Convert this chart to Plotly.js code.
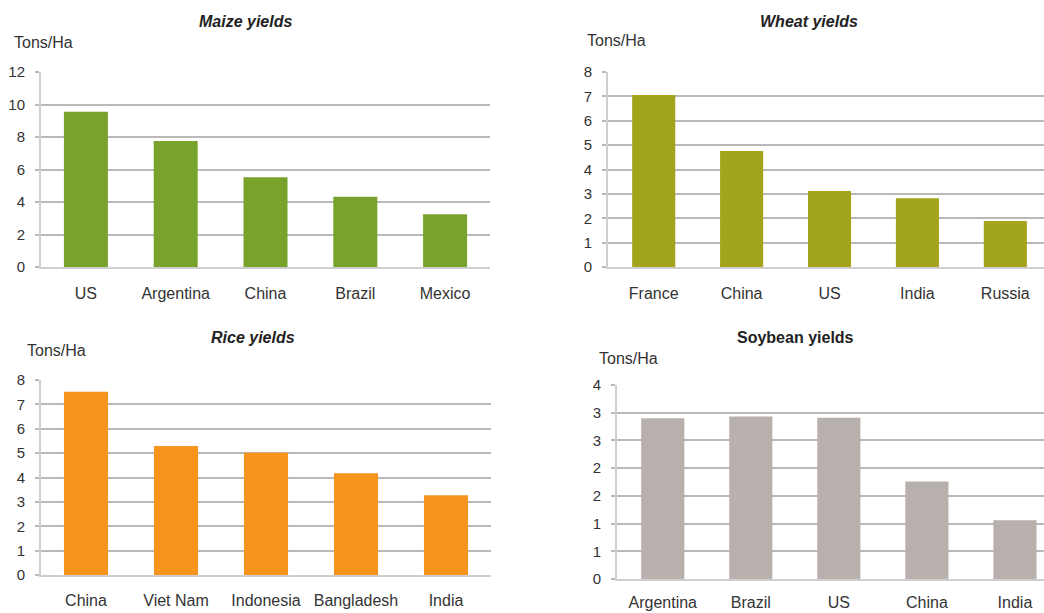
<!DOCTYPE html>
<html>
<head>
<meta charset="utf-8">
<script src="https://cdn.plot.ly/plotly-3.0.1.min.js"></script>
<style>html,body{margin:0;padding:0;background:#fff;}#chart{width:1044px;height:613px;}</style>
</head>
<body>
<div id="chart"></div>
<script>
// ---- Data ----
const maizeCountries = ['US', 'Argentina', 'China', 'Brazil', 'Mexico'];
const maizeYields = [9.56, 7.75, 5.52, 4.33, 3.24];

const wheatCountries = ['France', 'China', 'US', 'India', 'Russia'];
const wheatYields = [7.06, 4.76, 3.12, 2.82, 1.89];

const riceCountries = ['China', 'Viet Nam', 'Indonesia', 'Bangladesh', 'India'];
const riceYields = [7.52, 5.29, 5.02, 4.17, 3.27];

const soyCountries = ['Argentina', 'Brazil', 'US', 'China', 'India'];
const soyYields = [2.90, 2.93, 2.91, 1.76, 1.06];

const maizeTicks = [0, 2, 4, 6, 8, 10, 12];
const wheatTicks = [0, 1, 2, 3, 4, 5, 6, 7, 8];
const riceTicks = [0, 1, 2, 3, 4, 5, 6, 7, 8];
const soyTickVals = [0, 0.5, 1, 1.5, 2, 2.5, 3, 3.5];
const soyTickText = ['0', '1', '1', '2', '2', '3', '3', '4'];

const titles = ['Maize yields', 'Wheat yields', 'Rice yields', 'Soybean yields'];
const unitLabel = 'Tons/Ha';

// ---- Layout helpers ----
const W = 1044, H = 613;
const px = v => v / W;
const py = v => 1 - v / H;
const FONT = 'Liberation Sans, Arial, sans-serif';
const TXT = '#333333';
const GRID = '#b9b9b9';
const AXL = '#cfcfcf';

function bar(x, y, color, xa, ya) {
  return {type: 'bar', x: x, y: y, xaxis: xa, yaxis: ya, width: 0.49,
    marker: {color: color, line: {width: 0}}, hoverinfo: 'x+y', showlegend: false};
}

const data = [
  bar(maizeCountries, maizeYields, '#78a22b', 'x', 'y'),
  bar(wheatCountries, wheatYields, '#a2a41b', 'x2', 'y2'),
  bar(riceCountries, riceYields, '#f7941e', 'x3', 'y3'),
  bar(soyCountries, soyYields, '#b8b0ac', 'x4', 'y4')
];

function xaxis(dom, rng, anchor, standoff) {
  return {domain: dom, range: rng, anchor: anchor, type: 'category',
    showgrid: false, zeroline: false, showline: true, linecolor: AXL, linewidth: 2,
    ticks: '', ticklabelstandoff: standoff, tickfont: {family: FONT, size: 16, color: TXT},
    fixedrange: true};
}
function yaxis(dom, rng, anchor, tickvals, ticktext) {
  return {domain: dom, range: rng, anchor: anchor, tickmode: 'array',
    tickvals: tickvals, ticktext: ticktext || tickvals.map(String),
    showgrid: true, gridcolor: GRID, gridwidth: 2, zeroline: false,
    showline: true, linecolor: AXL, linewidth: 2,
    ticks: 'outside', ticklen: 4, tickcolor: GRID, tickwidth: 2,
    ticklabelstandoff: 7, tickfont: {family: FONT, size: 15, color: TXT},
    fixedrange: true};
}

function title(text, cx, cy, italic) {
  return {text: italic ? '<b><i>' + text + '</i></b>' : '<b>' + text + '</b>',
    xref: 'paper', yref: 'paper', x: px(cx), y: py(cy), xanchor: 'center', yanchor: 'middle',
    showarrow: false, font: {family: FONT, size: 16, color: '#222'}};
}
function unit(lx, cy) {
  return {text: unitLabel, xref: 'paper', yref: 'paper', x: px(lx), y: py(cy),
    xanchor: 'left', yanchor: 'middle', showarrow: false,
    font: {family: FONT, size: 16, color: TXT}};
}

const layout = {
  width: W, height: H,
  margin: {l: 0, r: 0, t: 0, b: 0},
  paper_bgcolor: '#fff', plot_bgcolor: '#fff',
  showlegend: false, bargap: 0.5,
  xaxis: xaxis([px(41), px(490)], [-0.5, 4.5], 'y', 11),
  yaxis: yaxis([py(267), py(72)], [0, 12], 'x', maizeTicks),
  xaxis2: xaxis([px(608), 1], [-0.52, 4.44], 'y2', 11),
  yaxis2: yaxis([py(267), py(72)], [0, 8], 'x2', wheatTicks),
  xaxis3: xaxis([px(41), px(491)], [-0.5, 4.5], 'y3', 10),
  yaxis3: yaxis([py(575), py(380)], [0, 8], 'x3', riceTicks),
  xaxis4: xaxis([px(617), 1], [-0.52, 4.33], 'y4', 8),
  yaxis4: yaxis([py(579), py(385)], [0, 3.5], 'x4', soyTickVals, soyTickText),
  annotations: [
    title(titles[0], 245, 21, true),
    unit(12, 42),
    title(titles[1], 809, 21, true),
    unit(585, 40),
    title(titles[2], 253, 337, true),
    unit(25, 350),
    title(titles[3], 795, 337, false),
    unit(597, 358)
  ]
};

Plotly.newPlot('chart', data, layout, {displayModeBar: false, staticPlot: true});
</script>
</body>
</html>
